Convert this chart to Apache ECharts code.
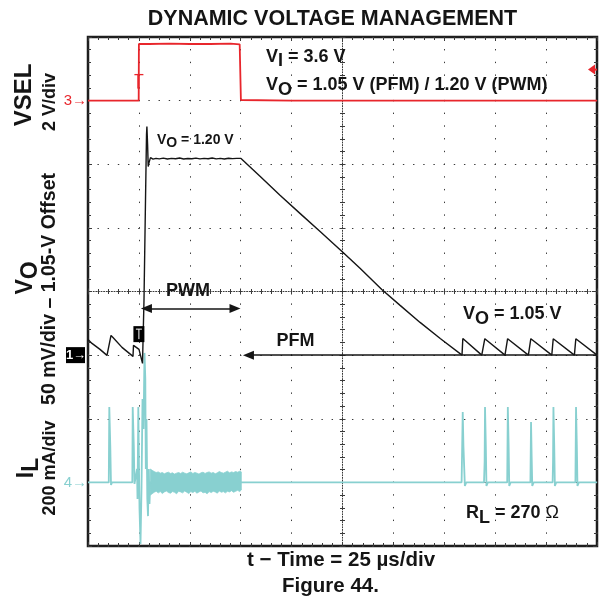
<!DOCTYPE html>
<html>
<head>
<meta charset="utf-8">
<script src="https://cdn.jsdelivr.net/npm/echarts@6/dist/echarts.min.js"></script>
<style>
  html, body { margin: 0; padding: 0; background: #ffffff; }
  #chart { width: 600px; height: 612px; }
</style>
</head>
<body>
<div id="chart"></div>
<script>
// ---- Scope settings -------------------------------------------------------
// Horizontal: 25 µs/div, 10 divisions. Vertical: 8 divisions.
const timeMin = 0;
const timeMax = 250;
const timePerDiv = 25;
const divsY = 8;

// Channel scales: units per division, reference value, and the division
// (relative to the screen centre) where the reference level sits.
const vselPerDiv = 2;      const vselRef = 0;    const vselRefDiv = 3;
const voPerDiv = 0.05;     const voRef = 1.05;   const voRefDiv = -1;
const ilPerDiv = 200;      const ilRef = 0;      const ilRefDiv = -3;

// ---- Channel 3: VSEL (V) -------------------------------------------------
const vselTime = [0, 24.9, 25.0, 25.6, 30, 40, 50, 60, 70, 74.5, 74.9, 75.1, 75.5, 100, 150, 200, 250];
const vselVolt = [0, 0, 1.78, 1.79, 1.78, 1.79, 1.78, 1.78, 1.79, 1.77, 1.72, 0.02, 0, 0, 0, 0, 0];

// ---- Channel 1: output voltage VO (V) ------------------------------------
const voTime = [
  0, 1.96, 5.89, 9.33, 11.30, 12.28, 16.70, 22.10, 22.35, 23.09, 25.05, 26.77,
  27.51, 28.25, 28.74, 28.93, 29.27, 29.57, 29.96, 30.70, 31.93, 33.40,
  35, 37, 39, 41, 43, 45, 47, 49, 51, 53, 55, 57, 59, 61, 63, 65, 67, 69, 71, 73, 75.15,
  84.48, 94.31, 104.1, 114.0, 125.3, 133.6, 144.3, 153.3, 163.1, 173.0, 183.7,
  184.1, 193.4, 194.9, 204.8, 206.1, 216.3, 217.5, 227.8, 228.5, 238.9, 239.6, 250
];
const voVolt = [
  1.0623, 1.0592, 1.0545, 1.0498, 1.0655, 1.0639, 1.0561, 1.0490, 1.0577, 1.0568, 1.0545, 1.0435,
  1.0938, 1.1725, 1.2233, 1.2296, 1.2155, 1.1982, 1.2013, 1.2052, 1.2040, 1.2046,
  1.2042, 1.2048, 1.2041, 1.2046, 1.2043, 1.2049, 1.2041, 1.2045, 1.2043, 1.2048, 1.2042, 1.2046,
  1.2043, 1.2049, 1.2042, 1.2046, 1.2041, 1.2047, 1.2044, 1.2046, 1.2046,
  1.1905, 1.1756, 1.1614, 1.1472, 1.1307, 1.1182, 1.1016, 1.0891, 1.0757, 1.0631, 1.0500,
  1.0631, 1.0500, 1.0629, 1.0500, 1.0629, 1.0500, 1.0629, 1.0500, 1.0629, 1.0500, 1.0629, 1.0500
];

// ---- Channel 4: inductor current IL (mA) ---------------------------------
const ilTime = [
  0, 10.2, 10.46, 10.95, 11.3, 11.8, 21.76, 21.96, 22.5, 22.84, 23.5,
  24.07, 24.31, 24.71, 25.05, 25.3, 25.79, 26.28, 26.77, 27.26, 27.75, 28.15,
  28.39, 28.74, 29.13, 29.47, 29.87, 30.21, 30.55,
  75.4, 120, 183.5, 184.05, 184.4, 184.8, 185.1, 185.8,
  194.5, 194.8, 195.0, 195.4, 195.7, 196.4,
  205.9, 206.2, 206.6, 206.9, 207.6,
  217.3, 217.6, 217.9, 218.2, 218.9,
  228.2, 228.4, 228.6, 229.0, 229.3, 230.0,
  239.4, 239.7, 240.1, 240.4, 241.1, 250
];
const ilCurrent = [
  0, 0, 237, 114, -8, 0, 0, 237, 114, -5, 0,
  42, -52, 237, 42, -84, -194, -21, 262, 168, 407, 325,
  42, 199, -52, -106, 42, -68, 0,
  0, 0, 0, 221, 114, 114, -11, 0,
  0, 64, 237, 114, -11, 0,
  0, 237, 114, -11, 0,
  0, 190, 84, -11, 0,
  0, 64, 237, 114, -11, 0,
  0, 237, 114, -11, 0, 0
];
// Switching ripple during PWM operation: upper / lower envelope (mA)
const ripTime = [30.6, 31.5, 32.5, 33.5, 34.5, 35.5, 36.5, 37.5, 38.5, 39.5, 40.5, 41.5, 42.5, 43.5, 44.5, 45.5,
  46.5, 47.5, 48.5, 49.5, 50.5, 51.5, 52.5, 53.5, 54.5, 55.5, 56.5, 57.5, 58.5, 59.5, 60.5, 61.5,
  62.5, 63.5, 64.5, 65.5, 66.5, 67.5, 68.5, 69.5, 70.5, 71.5, 72.5, 73.5, 74.5, 75.3];
const ripUpper = [42, 38, 34, 31, 33, 29, 31, 27, 30, 32, 28, 30, 26, 29, 31, 28,
  32, 29, 27, 30, 33, 28, 31, 29, 26, 30, 32, 28, 31, 33, 29, 31,
  27, 30, 34, 31, 29, 32, 35, 30, 33, 31, 34, 32, 35, 33];
const ripLower = [-40, -36, -31, -28, -33, -29, -35, -30, -27, -32, -34, -29, -31, -36, -28, -30,
  -33, -27, -31, -35, -29, -32, -28, -34, -30, -27, -33, -31, -36, -29, -32, -28,
  -30, -34, -27, -31, -29, -33, -28, -30, -26, -31, -28, -25, -29, -24];

// Mode arrows (µs, V): PWM span and PFM span
const pwmArrow = [[28.7, 1.0867], [72.2, 1.0867]];
const pfmArrow = [[78.8, 1.05], [250, 1.05]];

// ---- Colours & fonts ------------------------------------------------------
const RED = '#e8262c';
const CYAN = '#88d0d0';
const INK = '#151515';
const GRID_INK = '#3a3a3a';
const FONT = '"Liberation Sans", Arial, sans-serif';

const G = { left: 88, top: 37, width: 509, height: 509 };

function pairs(xs, ys) { return xs.map((x, i) => [x, ys[i]]); }
function chRange(perDiv, ref, refDiv) {
  return { min: ref + (-divsY / 2 - refDiv) * perDiv, max: ref + (divsY / 2 - refDiv) * perDiv };
}

const tickStyle = { color: GRID_INK, width: 1 };
function frameX(position, extra) {
  return Object.assign({
    type: 'value', gridIndex: 0, position, min: timeMin, max: timeMax, interval: timePerDiv,
    axisLine: { show: false, onZero: false },
    axisTick: { show: true, inside: true, length: 4, lineStyle: tickStyle },
    minorTick: { show: true, splitNumber: 5, length: 3, lineStyle: tickStyle },
    axisLabel: { show: false }, splitLine: { show: false }, silent: true
  }, extra || {});
}
function frameY(position, extra) {
  return Object.assign({
    type: 'value', gridIndex: 0, position, min: -divsY / 2, max: divsY / 2, interval: 1,
    axisLine: { show: false, onZero: false },
    axisTick: { show: true, inside: true, length: 4, lineStyle: tickStyle },
    minorTick: { show: true, splitNumber: 5, length: 3, lineStyle: tickStyle },
    axisLabel: { show: false }, splitLine: { show: false }, silent: true
  }, extra || {});
}
function hiddenY(r) {
  return { type: 'value', gridIndex: 0, show: false, min: r.min, max: r.max,
           axisLine: { onZero: false }, splitLine: { show: false } };
}
const centreLine = { show: true, onZero: false, lineStyle: { color: GRID_INK, width: 1, type: [1, 1.6] } };

const vselR = chRange(vselPerDiv, vselRef, vselRefDiv);
const voR = chRange(voPerDiv, voRef, voRefDiv);
const ilR = chRange(ilPerDiv, ilRef, ilRefDiv);

const chart = echarts.init(document.getElementById('chart'), null, { renderer: 'canvas' });

const option = {
  animation: false,
  backgroundColor: '#ffffff',
  grid: { left: G.left, top: G.top, width: G.width, height: G.height, show: true,
          borderColor: '#1e1e1e', borderWidth: 2.5, backgroundColor: 'transparent', containLabel: false },
  xAxis: [
    frameX('bottom', { splitLine: { show: true, lineStyle: { color: GRID_INK, width: 1, type: [1.4, 11.32], dashOffset: 0.7 } } }),
    frameX('top'),
    frameX('bottom', { offset: -G.height / 2, axisLine: centreLine,
                       axisTick: { show: true, inside: true, length: 3, lineStyle: tickStyle },
                       minorTick: { show: true, splitNumber: 5, length: 2.5, lineStyle: tickStyle } }),
    frameX('bottom', { offset: -G.height / 2,
                       axisTick: { show: true, inside: false, length: 3, lineStyle: tickStyle },
                       minorTick: { show: true, splitNumber: 5, length: 2.5, lineStyle: tickStyle } })
  ],
  yAxis: [
    frameY('left', { splitLine: { show: true, lineStyle: { color: GRID_INK, width: 1, type: [1.4, 8.78], dashOffset: 0.7 } } }),
    frameY('right'),
    frameY('left', { offset: -G.width / 2, axisLine: centreLine,
                     axisTick: { show: true, inside: true, length: 3, lineStyle: tickStyle },
                     minorTick: { show: true, splitNumber: 5, length: 2.5, lineStyle: tickStyle } }),
    frameY('left', { offset: -G.width / 2,
                     axisTick: { show: true, inside: false, length: 3, lineStyle: tickStyle },
                     minorTick: { show: true, splitNumber: 5, length: 2.5, lineStyle: tickStyle } }),
    hiddenY(vselR),
    hiddenY(voR),
    hiddenY(ilR)
  ],
  series: [
    {
      // ripple band between the envelopes, drawn as one filled polygon
      name: 'IL ripple', type: 'custom', coordinateSystem: 'cartesian2d',
      xAxisIndex: 0, yAxisIndex: 6, silent: true, z: 3,
      data: ripTime.map((t, i) => [t, ripUpper[i], ripLower[i]]),
      encode: { x: 0, y: [1, 2] },
      renderItem: function (params, api) {
        if (params.dataIndex !== 0) return null;
        const pts = [];
        for (let i = 0; i < ripTime.length; i++) pts.push(api.coord([ripTime[i], ripUpper[i]]));
        for (let i = ripTime.length - 1; i >= 0; i--) pts.push(api.coord([ripTime[i], ripLower[i]]));
        return { type: 'polygon', shape: { points: pts }, style: { fill: CYAN, stroke: CYAN, lineWidth: 0.8 } };
      }
    },
    {
      name: 'IL', type: 'line', xAxisIndex: 0, yAxisIndex: 6, showSymbol: false, silent: true,
      lineStyle: { color: CYAN, width: 1.8 }, data: pairs(ilTime, ilCurrent), z: 4
    },
    {
      name: 'VSEL', type: 'line', xAxisIndex: 0, yAxisIndex: 4, showSymbol: false, silent: true,
      lineStyle: { color: RED, width: 1.8 }, data: pairs(vselTime, vselVolt), z: 5
    },
    {
      name: 'VO', type: 'line', xAxisIndex: 0, yAxisIndex: 5, showSymbol: false, silent: true,
      lineStyle: { color: INK, width: 1.4 }, data: pairs(voTime, voVolt), z: 6,
      markLine: {
        silent: true, animation: false,
        symbol: ['triangle', 'triangle'], symbolSize: [9, 11],
        lineStyle: { color: INK, width: 1.5, type: 'solid' },
        label: { show: false }, emphasis: { disabled: true },
        data: [
          [{ coord: pwmArrow[0] }, { coord: pwmArrow[1] }],
          [{ coord: pfmArrow[0], symbol: 'triangle' }, { coord: pfmArrow[1], symbol: 'none' }]
        ]
      }
    }
  ]
};
chart.setOption(option);

// ---- Text and channel markers ---------------------------------------------
function txt(x, y, text, size, opts) {
  opts = opts || {};
  return {
    type: 'text', x, y, rotation: opts.rotation || 0, silent: true, z: 100,
    style: {
      text, fill: opts.fill || INK,
      font: (opts.weight || 'bold') + ' ' + size + 'px ' + FONT,
      align: opts.align || 'center', verticalAlign: opts.valign || 'middle',
      textAlign: opts.align || 'center', textVerticalAlign: opts.valign || 'middle',
      rich: opts.rich
    }
  };
}
function subRich(size, shift, subSize) {
  return {
    m: { fontSize: size, fontWeight: 'bold', fontFamily: FONT, fill: INK },
    s: { fontSize: subSize || size, fontWeight: 'bold', fontFamily: FONT, fill: INK, padding: [shift * 2, 0, 0, 0] },
    r: { fontSize: size, fontWeight: 'normal', fontFamily: FONT, fill: INK }
  };
}

const yVsel0 = chart.convertToPixel({ yAxisIndex: 4 }, vselRef);
const yVo0 = chart.convertToPixel({ yAxisIndex: 5 }, voRef);
const yIl0 = chart.convertToPixel({ yAxisIndex: 6 }, ilRef);
const yTrig = chart.convertToPixel({ yAxisIndex: 4 }, 0.975);
const xTrig = chart.convertToPixel({ xAxisIndex: 0 }, 25);
const xRight = G.left + G.width;

const graphics = [
  txt(332.5, 19, 'DYNAMIC VOLTAGE MANAGEMENT', 21.5),
  txt(266, 57, '{m|V}{s|I}{m| = 3.6 V}', 18, { align: 'left', rich: subRich(18, 4) }),
  txt(266, 85, '{m|V}{s|O}{m| = 1.05 V (PFM) / 1.20 V (PWM)}', 18, { align: 'left', rich: subRich(18, 5) }),
  txt(157, 140, '{m|V}{s|O}{m| = 1.20 V}', 14, { align: 'left', rich: subRich(14, 3) }),
  txt(188, 291.5, 'PWM', 18),
  txt(295.5, 341.5, 'PFM', 18),
  txt(463, 314, '{m|V}{s|O}{m| = 1.05 V}', 18, { align: 'left', rich: subRich(18, 5) }),
  txt(466, 513, '{m|R}{s|L}{m| = 270 }{r|Ω}', 18, { align: 'left', rich: subRich(18, 5) }),
  // vertical channel labels
  txt(24, 95, 'VSEL', 24, { rotation: Math.PI / 2 }),
  txt(50, 102, '2 V/div', 18, { rotation: Math.PI / 2 }),
  txt(26, 278, '{m|V}{s|O}', 23, { rotation: Math.PI / 2, rich: subRich(23, 5) }),
  txt(50, 289, '50 mV/div \u2013 1.05-V Offset', 19.5, { rotation: Math.PI / 2 }),
  txt(27, 468, '{m|I}{s|L}', 23, { rotation: Math.PI / 2, rich: subRich(23, 5) }),
  txt(50, 468, '200 mA/div', 18, { rotation: Math.PI / 2 }),
  // horizontal caption and figure number
  txt(341, 560, 't \u2212 Time = 25 \u00b5s/div', 20.5),
  txt(330.5, 586, 'Figure 44.', 20.5),
  // channel reference markers
  txt(87, yVsel0, '3\u2192', 15, { align: 'right', weight: 'normal', fill: RED }),
  { type: 'rect', silent: true, z: 100, shape: { x: 66, y: yVo0 - 8, width: 19, height: 16 }, style: { fill: '#000' } },
  txt(76, yVo0, '1\u2192', 13, { fill: '#fff' }),
  txt(87, yIl0, '4\u2192', 15, { align: 'right', weight: 'normal', fill: CYAN }),
  // trigger level marker (right edge)
  { type: 'polygon', silent: true, z: 100, shape: { points: [[xRight - 9, yTrig], [xRight - 2, yTrig - 5], [xRight - 2, yTrig + 5]] }, style: { fill: RED } },
  { type: 'line', silent: true, z: 100, shape: { x1: xRight - 3, y1: yTrig, x2: xRight, y2: yTrig }, style: { stroke: RED, lineWidth: 2 } },
  // trigger position marks on the VSEL and VO traces
  { type: 'line', silent: true, z: 100, shape: { x1: xTrig - 4.5, y1: yTrig + 5, x2: xTrig + 4.5, y2: yTrig + 5 }, style: { stroke: RED, lineWidth: 1.3 } },
  { type: 'line', silent: true, z: 100, shape: { x1: xTrig - 0.5, y1: yTrig + 5, x2: xTrig - 0.5, y2: yTrig + 19 }, style: { stroke: RED, lineWidth: 2.2 } },
  { type: 'rect', silent: true, z: 100, shape: { x: xTrig - 5.5, y: yVo0 - 29, width: 11, height: 16 }, style: { fill: '#000' } },
  { type: 'line', silent: true, z: 101, shape: { x1: xTrig - 3, y1: yVo0 - 26, x2: xTrig + 3, y2: yVo0 - 26 }, style: { stroke: '#fff', lineWidth: 1 } },
  { type: 'line', silent: true, z: 101, shape: { x1: xTrig, y1: yVo0 - 26, x2: xTrig, y2: yVo0 - 16 }, style: { stroke: '#fff', lineWidth: 1 } }
];
chart.setOption({ graphic: graphics });
</script>
</body>
</html>
